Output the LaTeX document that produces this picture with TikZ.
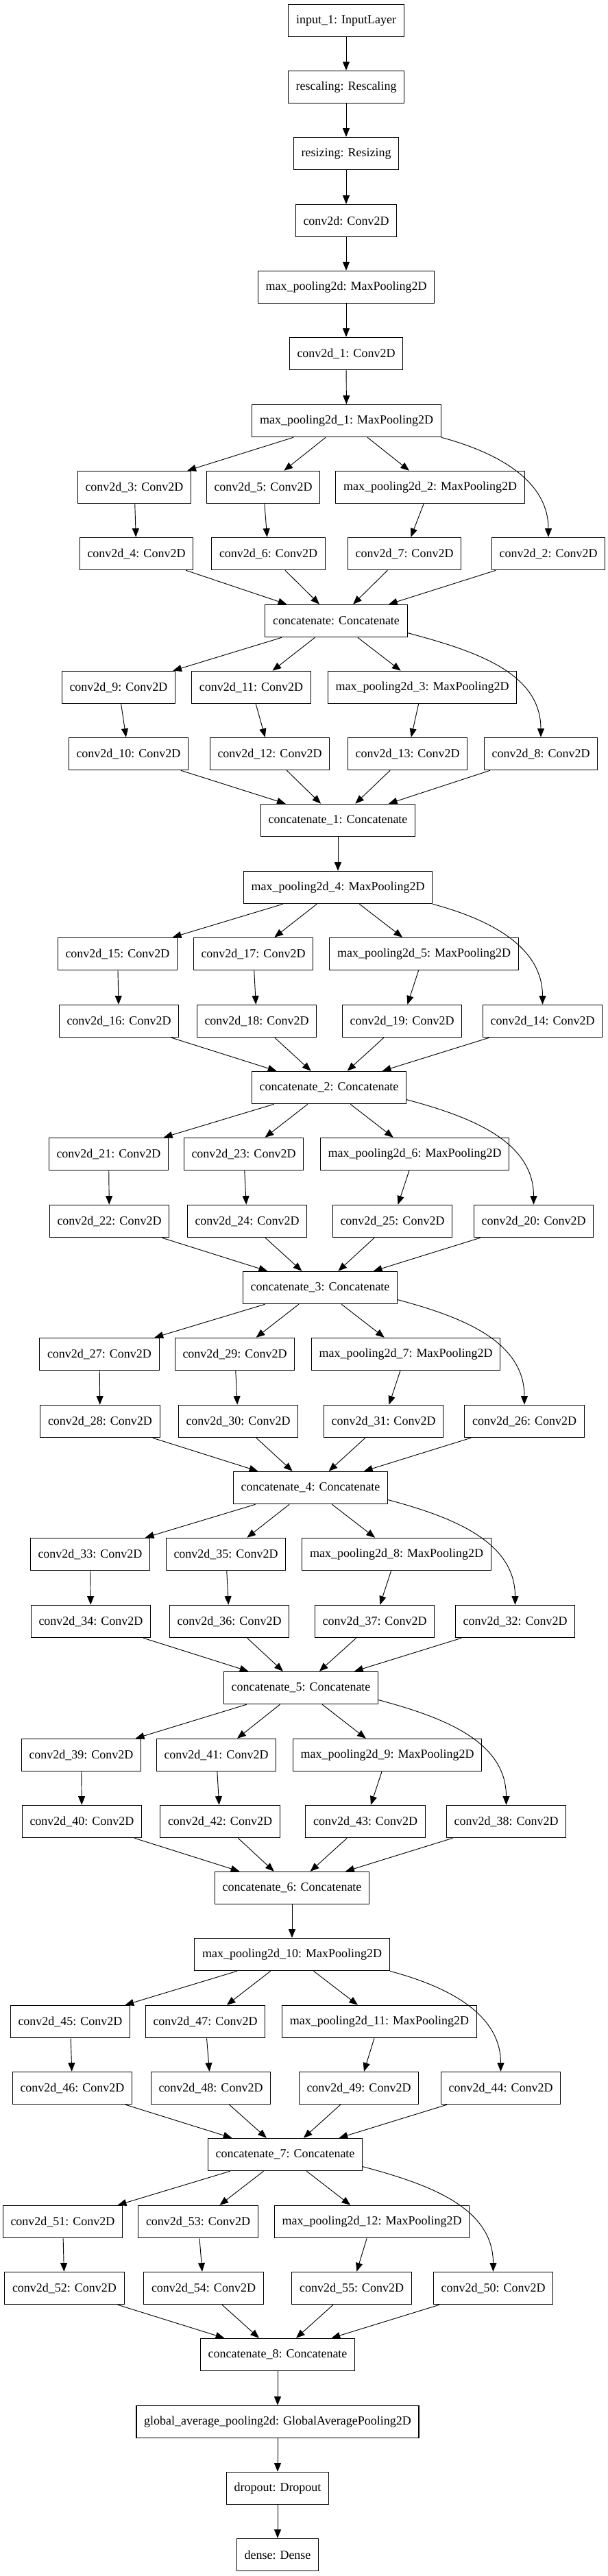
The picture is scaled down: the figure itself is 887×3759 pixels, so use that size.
\documentclass[tikz,border=0pt]{standalone}
\usepackage{fontspec}
\setmainfont{Liberation Serif}
\usetikzlibrary{arrows.meta}

\tikzset{
  layer/.style={draw, rectangle, line width=0.9pt, inner xsep=8.4pt, minimum height=35.5pt, font=\fontsize{13.5}{16}\selectfont},
  arr/.style={-{Triangle[length=9.5pt, width=7.5pt]}, line width=0.7pt},
}

\begin{document}
\begin{tikzpicture}[x=0.75pt, y=-0.75pt]
        \useasboundingbox (0,0) rectangle (887,3759);

        % Input chain
        \node[layer] (input) at (505,30) {input\_1: InputLayer};
        \node[layer] (rescale) at (505,127) {rescaling: Rescaling};
        \node[layer] (resize) at (505,224) {resizing: Resizing};
        \node[layer] (conv0) at (505,322) {conv2d: Conv2D};
        \node[layer] (pool0) at (505,419) {max\_pooling2d: MaxPooling2D};
        \node[layer] (conv1) at (505,516) {conv2d\_1: Conv2D};
        \node[layer] (pool1) at (505.5,614) {max\_pooling2d\_1: MaxPooling2D};

        \draw[arr] (input) -- (rescale);
        \draw[arr] (rescale) -- (resize);
        \draw[arr] (resize) -- (conv0);
        \draw[arr] (conv0) -- (pool0);
        \draw[arr] (pool0) -- (conv1);
        \draw[arr] (conv1) -- (pool1);

        % Block 1
        \node[layer] (conv3) at (196,711) {conv2d\_3: Conv2D};
        \node[layer] (conv5) at (384,711) {conv2d\_5: Conv2D};
        \node[layer] (pool2) at (627.5,711) {max\_pooling2d\_2: MaxPooling2D};
        \node[layer] (conv4) at (199,808) {conv2d\_4: Conv2D};
        \node[layer] (conv6) at (391.5,808) {conv2d\_6: Conv2D};
        \node[layer] (conv7) at (590,808) {conv2d\_7: Conv2D};
        \node[layer] (conv2) at (800,808) {conv2d\_2: Conv2D};
        \node[layer] (cat) at (490.5,906) {concatenate: Concatenate};

        \draw[arr] (pool1) -- (conv3);
        \draw[arr] (pool1) -- (conv5);
        \draw[arr] (pool1) -- (pool2);
        \draw[arr] (pool1.south east) to[out=-15, in=90] (conv2);
        \draw[arr] (conv3) -- (conv4);
        \draw[arr] (conv5) -- (conv6);
        \draw[arr] (pool2) -- (conv7);
        \draw[arr] (conv4) -- (cat);
        \draw[arr] (conv6) -- (cat);
        \draw[arr] (conv7) -- (cat);
        \draw[arr] (conv2) -- (cat);

        % Block 2
        \node[layer] (conv9) at (173,1003) {conv2d\_9: Conv2D};
        \node[layer] (conv11) at (366.5,1003) {conv2d\_11: Conv2D};
        \node[layer] (pool3) at (616,1003) {max\_pooling2d\_3: MaxPooling2D};
        \node[layer] (conv10) at (187.5,1100) {conv2d\_10: Conv2D};
        \node[layer] (conv12) at (393.5,1100) {conv2d\_12: Conv2D};
        \node[layer] (conv13) at (594.5,1100) {conv2d\_13: Conv2D};
        \node[layer] (conv8) at (789,1100) {conv2d\_8: Conv2D};
        \node[layer] (cat1) at (493,1197) {concatenate\_1: Concatenate};

        \draw[arr] (cat) -- (conv9);
        \draw[arr] (cat) -- (conv11);
        \draw[arr] (cat) -- (pool3);
        \draw[arr] ([yshift=5pt]cat.south east) to[out=-15, in=90] (conv8);
        \draw[arr] (conv9) -- (conv10);
        \draw[arr] (conv11) -- (conv12);
        \draw[arr] (pool3) -- (conv13);
        \draw[arr] (conv10) -- (cat1);
        \draw[arr] (conv12) -- (cat1);
        \draw[arr] (conv13) -- (cat1);
        \draw[arr] (conv8) -- (cat1);

        \node[layer] (pool4) at (493,1295) {max\_pooling2d\_4: MaxPooling2D};
        \draw[arr] (cat1) -- (pool4);

        % Block 3
        \node[layer] (conv15) at (171.5,1392) {conv2d\_15: Conv2D};
        \node[layer] (conv17) at (369.5,1392) {conv2d\_17: Conv2D};
        \node[layer] (pool5) at (618.5,1392) {max\_pooling2d\_5: MaxPooling2D};
        \node[layer] (conv16) at (173.5,1490) {conv2d\_16: Conv2D};
        \node[layer] (conv18) at (374.5,1490) {conv2d\_18: Conv2D};
        \node[layer] (conv19) at (586.5,1490) {conv2d\_19: Conv2D};
        \node[layer] (conv14) at (791.5,1490) {conv2d\_14: Conv2D};
        \node[layer] (cat2) at (480,1587) {concatenate\_2: Concatenate};

        \draw[arr] (pool4) -- (conv15);
        \draw[arr] (pool4) -- (conv17);
        \draw[arr] (pool4) -- (pool5);
        \draw[arr] (pool4.south east) to[out=-15, in=90] (conv14);
        \draw[arr] (conv15) -- (conv16);
        \draw[arr] (conv17) -- (conv18);
        \draw[arr] (pool5) -- (conv19);
        \draw[arr] (conv16) -- (cat2);
        \draw[arr] (conv18) -- (cat2);
        \draw[arr] (conv19) -- (cat2);
        \draw[arr] (conv14) -- (cat2);

        % Block 4
        \node[layer] (conv21) at (158.5,1684) {conv2d\_21: Conv2D};
        \node[layer] (conv23) at (355.5,1684) {conv2d\_23: Conv2D};
        \node[layer] (pool6) at (605,1684) {max\_pooling2d\_6: MaxPooling2D};
        \node[layer] (conv22) at (159.5,1782) {conv2d\_22: Conv2D};
        \node[layer] (conv24) at (360.5,1782) {conv2d\_24: Conv2D};
        \node[layer] (conv25) at (572.5,1782) {conv2d\_25: Conv2D};
        \node[layer] (conv20) at (778.5,1782) {conv2d\_20: Conv2D};
        \node[layer] (cat3) at (467,1879) {concatenate\_3: Concatenate};

        \draw[arr] (cat2) -- (conv21);
        \draw[arr] (cat2) -- (conv23);
        \draw[arr] (cat2) -- (pool6);
        \draw[arr] ([yshift=5pt]cat2.south east) to[out=-15, in=90] (conv20);
        \draw[arr] (conv21) -- (conv22);
        \draw[arr] (conv23) -- (conv24);
        \draw[arr] (pool6) -- (conv25);
        \draw[arr] (conv22) -- (cat3);
        \draw[arr] (conv24) -- (cat3);
        \draw[arr] (conv25) -- (cat3);
        \draw[arr] (conv20) -- (cat3);

        % Block 5
        \node[layer] (conv27) at (145,1976) {conv2d\_27: Conv2D};
        \node[layer] (conv29) at (342.5,1976) {conv2d\_29: Conv2D};
        \node[layer] (pool7) at (592,1976) {max\_pooling2d\_7: MaxPooling2D};
        \node[layer] (conv28) at (146,2074) {conv2d\_28: Conv2D};
        \node[layer] (conv30) at (347.5,2074) {conv2d\_30: Conv2D};
        \node[layer] (conv31) at (559.5,2074) {conv2d\_31: Conv2D};
        \node[layer] (conv26) at (765,2074) {conv2d\_26: Conv2D};
        \node[layer] (cat4) at (453,2171) {concatenate\_4: Concatenate};

        \draw[arr] (cat3) -- (conv27);
        \draw[arr] (cat3) -- (conv29);
        \draw[arr] (cat3) -- (pool7);
        \draw[arr] ([yshift=5pt]cat3.south east) to[out=-15, in=90] (conv26);
        \draw[arr] (conv27) -- (conv28);
        \draw[arr] (conv29) -- (conv30);
        \draw[arr] (pool7) -- (conv31);
        \draw[arr] (conv28) -- (cat4);
        \draw[arr] (conv30) -- (cat4);
        \draw[arr] (conv31) -- (cat4);
        \draw[arr] (conv26) -- (cat4);

        % Block 6
        \node[layer] (conv33) at (131.5,2268) {conv2d\_33: Conv2D};
        \node[layer] (conv35) at (329.5,2268) {conv2d\_35: Conv2D};
        \node[layer] (pool8) at (578.5,2268) {max\_pooling2d\_8: MaxPooling2D};
        \node[layer] (conv34) at (132.5,2366) {conv2d\_34: Conv2D};
        \node[layer] (conv36) at (334.5,2366) {conv2d\_36: Conv2D};
        \node[layer] (conv37) at (546.5,2366) {conv2d\_37: Conv2D};
        \node[layer] (conv32) at (751.5,2366) {conv2d\_32: Conv2D};
        \node[layer] (cat5) at (439,2463) {concatenate\_5: Concatenate};

        \draw[arr] (cat4) -- (conv33);
        \draw[arr] (cat4) -- (conv35);
        \draw[arr] (cat4) -- (pool8);
        \draw[arr] ([yshift=5pt]cat4.south east) to[out=-15, in=90] (conv32);
        \draw[arr] (conv33) -- (conv34);
        \draw[arr] (conv35) -- (conv36);
        \draw[arr] (pool8) -- (conv37);
        \draw[arr] (conv34) -- (cat5);
        \draw[arr] (conv36) -- (cat5);
        \draw[arr] (conv37) -- (cat5);
        \draw[arr] (conv32) -- (cat5);

        % Block 7
        \node[layer] (conv39) at (118.5,2561) {conv2d\_39: Conv2D};
        \node[layer] (conv41) at (315.5,2561) {conv2d\_41: Conv2D};
        \node[layer] (pool9) at (565,2561) {max\_pooling2d\_9: MaxPooling2D};
        \node[layer] (conv40) at (119.5,2658) {conv2d\_40: Conv2D};
        \node[layer] (conv42) at (321,2658) {conv2d\_42: Conv2D};
        \node[layer] (conv43) at (533,2658) {conv2d\_43: Conv2D};
        \node[layer] (conv38) at (738.5,2658) {conv2d\_38: Conv2D};
        \node[layer] (cat6) at (426,2755) {concatenate\_6: Concatenate};

        \draw[arr] (cat5) -- (conv39);
        \draw[arr] (cat5) -- (conv41);
        \draw[arr] (cat5) -- (pool9);
        \draw[arr] ([yshift=5pt]cat5.south east) to[out=-15, in=90] (conv38);
        \draw[arr] (conv39) -- (conv40);
        \draw[arr] (conv41) -- (conv42);
        \draw[arr] (pool9) -- (conv43);
        \draw[arr] (conv40) -- (cat6);
        \draw[arr] (conv42) -- (cat6);
        \draw[arr] (conv43) -- (cat6);
        \draw[arr] (conv38) -- (cat6);

        \node[layer] (pool10) at (426,2852) {max\_pooling2d\_10: MaxPooling2D};
        \draw[arr] (cat6) -- (pool10);

        % Block 8
        \node[layer] (conv45) at (102.5,2950) {conv2d\_45: Conv2D};
        \node[layer] (conv47) at (299.5,2950) {conv2d\_47: Conv2D};
        \node[layer] (pool11) at (553.5,2950) {max\_pooling2d\_11: MaxPooling2D};
        \node[layer] (conv46) at (105.5,3047) {conv2d\_46: Conv2D};
        \node[layer] (conv48) at (307.5,3047) {conv2d\_48: Conv2D};
        \node[layer] (conv49) at (523.5,3047) {conv2d\_49: Conv2D};
        \node[layer] (conv44) at (730.5,3047) {conv2d\_44: Conv2D};
        \node[layer] (cat7) at (416,3144) {concatenate\_7: Concatenate};

        \draw[arr] (pool10) -- (conv45);
        \draw[arr] (pool10) -- (conv47);
        \draw[arr] (pool10) -- (pool11);
        \draw[arr] (pool10.south east) to[out=-15, in=90] (conv44);
        \draw[arr] (conv45) -- (conv46);
        \draw[arr] (conv47) -- (conv48);
        \draw[arr] (pool11) -- (conv49);
        \draw[arr] (conv46) -- (cat7);
        \draw[arr] (conv48) -- (cat7);
        \draw[arr] (conv49) -- (cat7);
        \draw[arr] (conv44) -- (cat7);

        % Block 9
        \node[layer] (conv51) at (91.5,3242) {conv2d\_51: Conv2D};
        \node[layer] (conv53) at (289,3242) {conv2d\_53: Conv2D};
        \node[layer] (pool12) at (542.5,3242) {max\_pooling2d\_12: MaxPooling2D};
        \node[layer] (conv52) at (94,3339) {conv2d\_52: Conv2D};
        \node[layer] (conv54) at (297,3339) {conv2d\_54: Conv2D};
        \node[layer] (conv55) at (513,3339) {conv2d\_55: Conv2D};
        \node[layer] (conv50) at (719.5,3339) {conv2d\_50: Conv2D};
        \node[layer] (cat8) at (405,3436) {concatenate\_8: Concatenate};

        \draw[arr] (cat7) -- (conv51);
        \draw[arr] (cat7) -- (conv53);
        \draw[arr] (cat7) -- (pool12);
        \draw[arr] ([yshift=5pt]cat7.south east) to[out=-15, in=90] (conv50);
        \draw[arr] (conv51) -- (conv52);
        \draw[arr] (conv53) -- (conv54);
        \draw[arr] (pool12) -- (conv55);
        \draw[arr] (conv52) -- (cat8);
        \draw[arr] (conv54) -- (cat8);
        \draw[arr] (conv55) -- (cat8);
        \draw[arr] (conv50) -- (cat8);

        % Head
        \node[layer] (gap) at (405,3534) {global\_average\_pooling2d: GlobalAveragePooling2D};
        \node[layer] (drop) at (405,3631) {dropout: Dropout};
        \node[layer] (dense) at (405,3728) {dense: Dense};

        \draw[arr] (cat8) -- (gap);
        \draw[arr] (gap) -- (drop);
        \draw[arr] (drop) -- (dense);

    \end{tikzpicture}
\end{document}
